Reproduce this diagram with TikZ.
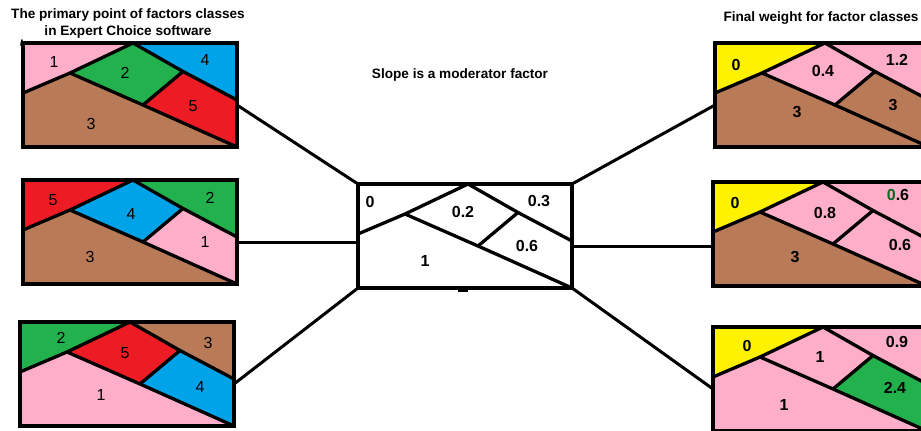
\documentclass[tikz,border=0pt]{standalone}
\usepackage{fontspec}
\setmainfont{Liberation Sans}
\usetikzlibrary{calc}

% MS Paint palette
\definecolor{ppink}{HTML}{FFAEC9}
\definecolor{pgreen}{HTML}{22B14C}
\definecolor{pblue}{HTML}{00A2E8}
\definecolor{pred}{HTML}{ED1C24}
\definecolor{pbrown}{HTML}{B97A57}
\definecolor{pyellow}{HTML}{FFF200}
\definecolor{dgreen}{HTML}{0B6623}

\tikzset{
  edge/.style={line width=3.3pt, line join=round, line cap=round},
  frame/.style={line width=4pt, line join=miter},
  link/.style={line width=3pt},
  title/.style={font=\bfseries\fontsize{13.6}{17}\selectfont, align=center, inner sep=0pt},
  num/.style={font=\fontsize{16}{16}\selectfont, inner sep=0pt},
  bnum/.style={font=\bfseries\fontsize{16}{16}\selectfont, inner sep=0pt},
  % one slope-class map: five regions A..E with their fill colours
  pics/panel/.style n args={5}{code={
    \coordinate (-TL) at (0,0);
    \coordinate (-TR) at (214,0);
    \coordinate (-BR) at (214,104);
    \coordinate (-BL) at (0,104);
    \coordinate (-Lp) at (0,50);
    \coordinate (-Pk) at (47,30);
    \coordinate (-Ap) at (110,0);
    \coordinate (-Rp) at (214,57);
    \coordinate (-Ku) at (160,28.5);
    \coordinate (-Kl) at (120,62);
    \coordinate (-E) at (214,62);
    \coordinate (-W) at (0,62);
    \fill[#1] (-TL) -- (-Ap) -- (-Pk) -- (-Lp) -- cycle;
    \fill[#2] (-Pk) -- (-Ap) -- (-Ku) -- (-Kl) -- cycle;
    \fill[#3] (-Ap) -- (-TR) -- (-Rp) -- (-Ku) -- cycle;
    \fill[#4] (-Kl) -- (-Ku) -- (-Rp) -- (-BR) -- cycle;
    \fill[#5] (-Lp) -- (-Pk) -- (-Kl) -- (-BR) -- (-BL) -- cycle;
    \draw[edge] (-Lp) -- (-Pk) -- (-Ap) -- (-Ku) -- (-Rp);
    \draw[edge] (-Pk) -- (-Kl) -- (-BR);
    \draw[edge] (-Ku) -- (-Kl);
    \draw[frame] (-TL) rectangle (-BR);
  }}
}

\begin{document}
\begin{tikzpicture}[x=1pt, y=-1pt]
  \useasboundingbox (0,0) rectangle (921,431);
  \clip (0,0) rectangle (921,431);
  \fill[white] (0,0) rectangle (921,431);

  % primary class points
  \pic (L1) at (23,43)  {panel={ppink}{pgreen}{pblue}{pred}{pbrown}};
  \pic (L2) at (23,180) {panel={pred}{pblue}{pgreen}{ppink}{pbrown}};
  \pic (L3) at (20,322) {panel={pgreen}{pred}{pbrown}{pblue}{ppink}};

  % moderator (slope)
  \pic (C) at (358,184) {panel={white}{white}{white}{white}{white}};

  % final weights
  \pic (R1) at (715,43)  {panel={pyellow}{ppink}{ppink}{pbrown}{pbrown}};
  \pic (R2) at (713,182) {panel={pyellow}{ppink}{ppink}{ppink}{pbrown}};
  \pic (R3) at (713,327) {panel={pyellow}{ppink}{ppink}{pgreen}{ppink}};

  % connectors
  \draw[link] (L1-E) -- (C-TL);
  \draw[link] (L2-E) -- (L2-E -| C-TL);
  \draw[link] (L3-E) -- (C-BL);
  \draw[link] (C-TR) -- (R1-W);
  \draw[link] (C-E) -- (C-E -| R2-TL);
  \draw[link] (C-BR) -- (R3-W);

  % small strokes on the frames
  \draw[line width=3pt] (458,290) -- (468,290);
  \draw[line width=1.6pt, line cap=round] (21,45) -- (22,40);

  % titles
  \node[title] (t1) at (128,23) {The primary point of factors classes\\in Expert Choice software};
  \node[title] (t2) at (460,75) {Slope is a moderator factor};
  \node[title] (t3) at (821,18) {Final weight for factor classes};

  % labels, first map
  \node[num] (l1a) at (54,62)  {1};
  \node[num] (l1b) at (125,73) {2};
  \node[num] (l1c) at (205,60) {4};
  \node[num] (l1d) at (193,106) {5};
  \node[num] (l1e) at (91,124) {3};
  % second map
  \node[num] (l2a) at (53,200) {5};
  \node[num] (l2b) at (131,214) {4};
  \node[num] (l2c) at (210,198) {2};
  \node[num] (l2d) at (205,242) {1};
  \node[num] (l2e) at (90,257) {3};
  % third map
  \node[num] (l3a) at (61,338) {2};
  \node[num] (l3b) at (125,353) {5};
  \node[num] (l3c) at (208,343) {3};
  \node[num] (l3d) at (200,387) {4};
  \node[num] (l3e) at (101,395) {1};
  % moderator
  \node[bnum] (ca) at (370,202) {0};
  \node[bnum] (cb) at (463,212) {0.2};
  \node[bnum] (cc) at (539,201) {0.3};
  \node[bnum] (cd) at (527,246) {0.6};
  \node[bnum] (ce) at (425,261) {1};
  % final weights
  \node[bnum] (r1a) at (736,65)  {0};
  \node[bnum] (r1b) at (823,71)  {0.4};
  \node[bnum] (r1c) at (897,60)  {1.2};
  \node[bnum] (r1d) at (893,105) {3};
  \node[bnum] (r1e) at (797,112) {3};
  \node[bnum] (r2a) at (735,203) {0};
  \node[bnum] (r2b) at (825,213) {0.8};
  \node[bnum] (r2c) at (898,195) {\textcolor{dgreen}{0}.6};
  \node[bnum] (r2d) at (900,245) {0.6};
  \node[bnum] (r2e) at (795,257) {3};
  \node[bnum] (r3a) at (747,346) {0};
  \node[bnum] (r3b) at (820,357) {1};
  \node[bnum] (r3c) at (897,342) {0.9};
  \node[bnum] (r3d) at (895,388) {2.4};
  \node[bnum] (r3e) at (784,405) {1};
\end{tikzpicture}
\end{document}
